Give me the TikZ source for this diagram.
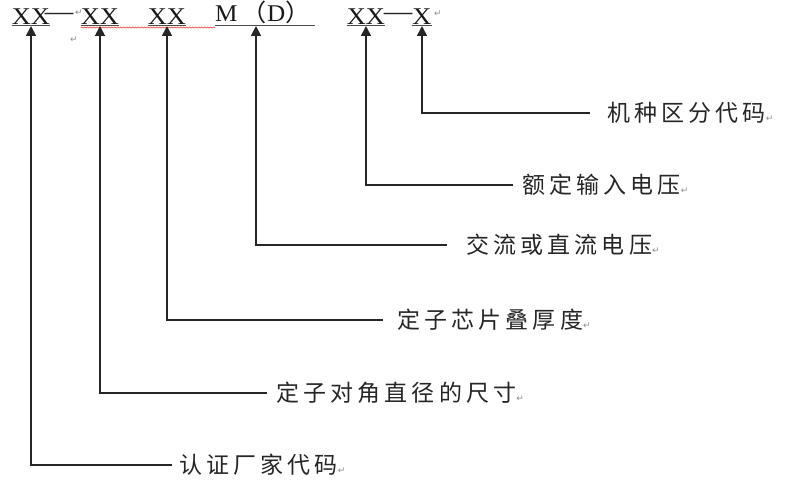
\documentclass[tikz,border=0pt]{standalone}
\usepackage{fontspec}
\setmainfont{Liberation Serif}
\newfontfamily\cjk[LetterSpace=18]{Noto Sans CJK SC}
\newfontfamily\cjkp{Noto Sans CJK SC}
\newfontfamily\sym{DejaVu Sans}
\usetikzlibrary{arrows.meta,decorations.pathmorphing}
\newcommand{\wide}[1]{\scalebox{1.1}[1]{#1}}
\newcommand{\pmark}{{\sym\fontsize{9}{9}\selectfont\color{black!45}↵}}
\tikzset{
  code/.style={font=\fontsize{24}{26}\selectfont, text=black!90, inner xsep=0pt, inner ysep=1.5pt, anchor=south},
  dashtxt/.style={font=\sym\fontsize{20}{24}\selectfont, text=black!85, inner sep=0pt, anchor=center},
  uline/.style={draw=black!70, line width=1pt},
  lab/.style={font=\cjk\fontsize{23}{26}\selectfont, text=black!85, anchor=west, inner ysep=0pt},
  conn/.style={draw=black!85, line width=1.6pt, -{Triangle[width=10pt,length=10pt]}},
  pm/.style={inner sep=0pt},
  squig/.style={draw=red!80, line width=0.6pt, decorate, decoration={snake, amplitude=0.6pt, segment length=3pt}}
}
\begin{document}
\begin{tikzpicture}[x=1pt,y=-1pt]
\useasboundingbox (0,0) rectangle (785,481);
% top code row
\node[code] (xx1) at (31,26) {\wide{XX}};
\node[dashtxt] (d1) at (59,16) {\scalebox{1.6}[1]{—}};
\node[pm] (p1) at (79,13) {\pmark};
\node[pm] (p2) at (74,40) {\pmark};
\node[code] (xx2) at (100,26) {\wide{XX}};
\node[code] (xx3) at (167,26) {\wide{XX}};
\node[code, anchor=south west] (md) at (215,26) {\scalebox{1.05}[1]{M\,{\cjkp （}D{\cjkp ）}}};
\coordinate (mdtip) at (256,26);
\node[code] (xx4) at (366,26) {\wide{XX}};
\node[dashtxt] (d2) at (398,16) {\scalebox{1.6}[1]{—}};
\node[code] (x5) at (422,26) {\wide{X}};
\node[pm] (p3) at (438,14) {\pmark};
% underlines
\draw[uline] (xx1.south west) -- (xx1.south east);
\draw[uline] (xx2.south west) -- (xx2.south east);
\draw[uline] (xx3.south west) -- (xx3.south east);
\draw[uline] (md.south west) -- ([xshift=4pt]md.south east);
\draw[uline] (xx4.south west) -- (xx4.south east);
\draw[uline] (x5.south west) -- (x5.south east);
\draw[squig] ([yshift=-1.5pt]xx2.south west) -- ([yshift=-1.5pt]md.south west);
% labels
\node[lab, inner xsep=17pt] (l1) at (590,113) {机种区分代码\pmark};
\node[lab, inner xsep=9pt]  (l2) at (513,185) {额定输入电压\pmark};
\node[lab, inner xsep=19pt] (l3) at (447,245) {交流或直流电压\pmark};
\node[lab, inner xsep=14pt] (l4) at (383,320) {定子芯片叠厚度\pmark};
\node[lab, inner xsep=9pt]  (l5) at (267,393) {定子对角直径的尺寸\pmark};
\node[lab, inner xsep=7pt]  (l6) at (172,465) {认证厂家代码\pmark};
% connectors
\draw[conn] (l1.west) -| (x5.south);
\draw[conn] (l2.west) -| (xx4.south);
\draw[conn] (l3.west) -| (mdtip);
\draw[conn] (l4.west) -| (xx3.south);
\draw[conn] (l5.west) -| (xx2.south);
\draw[conn] (l6.west) -| (xx1.south);
\end{tikzpicture}
\end{document}
